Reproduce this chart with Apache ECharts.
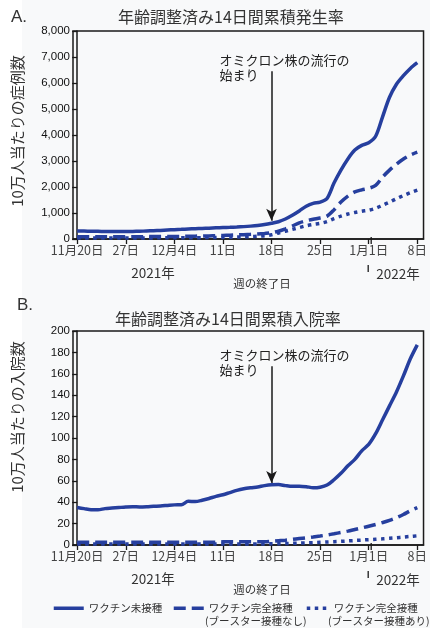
<!DOCTYPE html>
<html>
<head>
<meta charset="utf-8">
<script src="https://cdn.jsdelivr.net/npm/echarts@6/dist/echarts.min.js"></script>
<style>
html,body{margin:0;padding:0;background:#f8f9fa;}
#chart{width:430px;height:628px;}
</style>
</head>
<body>
<div id="chart"></div>
<script>
// 週の終了日 (11月20日 = 0 〜 1月8日 = 49)
var dayIndex = [0,1,2,3,4,5,6,7,8,9,10,11,12,13,14,15,16,17,18,19,20,21,22,23,24,
  25,26,27,28,29,30,31,32,33,34,35,36,37,38,39,40,41,42,43,44,45,46,47,48,49];
var tickDays = [0,7,14,21,28,35,42,49];
var tickLabels = ['11月20日','27日','12月4日','11日','18日','25日','1月1日','8日'];
var seriesNames = ['ワクチン未接種','ワクチン完全接種（ブースター接種なし）','ワクチン完全接種（ブースター接種あり）'];

// A. 年齢調整済み14日間累積発生率
var casesUnvax = [310,305,300,295,290,288,286,285,290,298,308,318,330,345,360,372,384,395,405,415,
  428,440,450,462,476,495,520,555,605,665,770,910,1080,1260,1370,1420,1560,2150,2650,3080,
  3420,3600,3700,3950,4700,5450,5950,6280,6560,6780];
var casesFull = [90,90,90,88,88,88,88,90,90,90,92,92,94,95,98,100,105,110,115,120,
  128,135,145,155,168,180,195,215,240,300,390,500,620,700,760,810,880,1120,1420,1650,
  1810,1890,1950,2060,2380,2650,2880,3080,3230,3340];
var casesBoost = [40,40,40,40,40,40,40,40,40,42,42,43,44,45,46,47,48,50,52,55,
  58,62,66,72,80,90,105,125,160,230,300,370,440,510,560,600,670,780,880,960,
  1020,1070,1110,1180,1300,1420,1550,1670,1780,1880];

// B. 年齢調整済み14日間累積入院率
var hospUnvax = [35,34,33,33,34,34.5,35,35.5,35.8,35.6,35.8,36.2,36.5,37,37.5,37.6,40.8,40.6,41.8,43.5,
  45.5,47,49,51,52.5,53.5,54.3,55.5,56.3,56.5,55.5,54.8,55,54.5,53.5,54,56,61,67,74,
  80,88,94,104,117,130,143,158,174,187];
var hospFull = [2.5,2.5,2.5,2.5,2.5,2.5,2.5,2.5,2.5,2.5,2.5,2.5,2.5,2.5,2.5,2.5,2.5,2.5,2.5,2.5,
  2.5,3,3,3,3,3,3,3,3.5,4,4.5,5.2,6,6.7,7.5,8.4,9.4,10.5,11.7,13,
  14.5,16,17.5,19.2,21,23,25.5,28.5,32,35];
var hospBoost = [1,1,1,1,1,1,1,1,1,1,1,1,1,1,1,1,1,1,1,1,
  1,1,1,1,1,1,1,1,1.1,1.2,1.4,1.6,1.8,2,2.2,2.5,2.8,3.1,3.4,3.8,
  4.2,4.6,5,5.4,5.8,6.3,6.8,7.4,8,8.6];

// オミクロン株の流行の始まり（矢印）
var omicronDay = 28;
var arrowFrom = [6450, 167];
var arrowTo = [700, 58];

var blue = '#263f9e';
var ink = '#1a1a1a';
var lineTypes = ['solid', [12, 6], [3.5, 4.5]];

function pairs(arr) {
  return dayIndex.map(function (d, i) { return [d, arr[i]]; });
}

var chart = echarts.init(document.getElementById('chart'));

function xAxisFor(gi) {
  return {
    type: 'value', gridIndex: gi, min: -0.6, max: 49.9,
    axisLine: { show: true, lineStyle: { color: ink, width: 1.5 } },
    axisTick: { show: true, length: 5, customValues: tickDays, lineStyle: { color: ink, width: 1.3 } },
    axisLabel: {
      customValues: tickDays, margin: 5, fontSize: 12.5, color: '#444',
      fontFamily: 'Noto Sans CJK JP',
      formatter: function (v) { return tickLabels[tickDays.indexOf(v)]; }
    },
    splitLine: { show: false }
  };
}
function yAxisFor(gi, max, interval) {
  return {
    type: 'value', gridIndex: gi, min: 0, max: max, interval: interval,
    axisLine: { show: true, lineStyle: { color: ink, width: 1.5 } },
    axisTick: { show: true, length: 5, lineStyle: { color: ink, width: 1.3 } },
    axisLabel: {
      margin: 3, fontSize: 11.5, color: '#111', fontFamily: 'Liberation Sans',
      formatter: function (v) { return v.toLocaleString('en-US'); }
    },
    splitLine: { show: false }
  };
}
function lineSeries(name, gi, data, k, arrow) {
  var s = {
    name: name, type: 'line', xAxisIndex: gi, yAxisIndex: gi,
    data: pairs(data), showSymbol: false, symbol: 'none', smooth: 0.3,
    z: 3 - k,
    lineStyle: { color: blue, width: 3.5, type: lineTypes[k], cap: 'butt' },
    itemStyle: { color: blue }
  };
  if (arrow) {
    s.markLine = {
      silent: true, animation: false,
      symbol: ['none', 'arrow'], symbolSize: [8, 12],
      lineStyle: { color: ink, width: 1.5, type: 'solid' },
      label: { show: false },
      data: [[{ coord: [omicronDay, arrowFrom[gi]] }, { coord: [omicronDay, arrowTo[gi]] }]]
    };
  }
  return s;
}

var legendText = { fontSize: 10.5, color: '#333', fontFamily: 'Noto Sans CJK JP' };
function legendFor(name, left, w) {
  return {
    data: [name], left: left, top: 603, itemWidth: w, itemHeight: 12, padding: 0,
    selectedMode: false, textStyle: legendText,
    itemStyle: { opacity: 0 },
    lineStyle: { width: 3.5, color: blue },
    formatter: function (n) { return n.split('（')[0]; }
  };
}

var titleStyle = { fontSize: 16, fontWeight: 'normal', color: '#333', fontFamily: 'Noto Sans CJK JP' };
var markStyle = { fontSize: 17, fontWeight: 'normal', color: '#333', fontFamily: 'Liberation Sans' };

var option = {
  animation: false,
  backgroundColor: '#f8f9fa',
  title: [
    { text: 'A.', left: 6, top: 4, textStyle: markStyle },
    { text: '年齢調整済み14日間累積発生率', left: 113, top: 4, textStyle: titleStyle },
    { text: 'B.', left: 12, top: 292, textStyle: markStyle },
    { text: '年齢調整済み14日間累積入院率', left: 110, top: 306, textStyle: titleStyle }
  ],
  grid: [
    { left: 73, right: 6, top: 31, height: 208, show: true, borderColor: ink, borderWidth: 1.5, backgroundColor: 'transparent' },
    { left: 73, right: 6, top: 331, height: 214, show: true, borderColor: ink, borderWidth: 1.5, backgroundColor: 'transparent' }
  ],
  xAxis: [xAxisFor(0), xAxisFor(1)],
  yAxis: [yAxisFor(0, 8000, 1000), yAxisFor(1, 200, 20)],
  legend: [
    legendFor(seriesNames[0], 52, 30),
    legendFor(seriesNames[1], 172, 30),
    legendFor(seriesNames[2], 305, 22)
  ],
  series: [
    lineSeries(seriesNames[0], 0, casesUnvax, 0, true),
    lineSeries(seriesNames[1], 0, casesFull, 1, false),
    lineSeries(seriesNames[2], 0, casesBoost, 2, false),
    lineSeries(seriesNames[0], 1, hospUnvax, 0, true),
    lineSeries(seriesNames[1], 1, hospFull, 1, false),
    lineSeries(seriesNames[2], 1, hospBoost, 2, false)
  ]
};
chart.setOption(option);

// 注記・年ラベルなど
var jp = 'Noto Sans CJK JP';
var g = [
  { type: 'rect', z: -1, shape: { x: 0, y: 0, width: 22, height: 628 }, style: { fill: '#fff' } },
  { type: 'text', x: 17, y: 131, rotation: Math.PI / 2,
    style: { text: '10万人当たりの症例数', font: '15px "' + jp + '"', fill: '#333', textAlign: 'center', textVerticalAlign: 'middle' } },
  { type: 'text', x: 17, y: 417, rotation: Math.PI / 2,
    style: { text: '10万人当たりの入院数', font: '15px "' + jp + '"', fill: '#333', textAlign: 'center', textVerticalAlign: 'middle' } },
  { type: 'text', x: 205, y: 621,
    style: { text: '(ブースター接種なし)', font: '10.5px "' + jp + '"', fill: '#333', textVerticalAlign: 'middle' } },
  { type: 'text', x: 328, y: 621,
    style: { text: '(ブースター接種あり)', font: '10.5px "' + jp + '"', fill: '#333', textVerticalAlign: 'middle' } }
];
[0, 1].forEach(function (gi) {
  var o = chart.convertToPixel({ gridIndex: gi }, [omicronDay, arrowFrom[gi]]);
  g.push({ type: 'text', x: o[0] - 52, y: o[1] - 19,
    style: { text: 'オミクロン株の流行の\n始まり', font: '13px "' + jp + '"', lineHeight: 15, fill: '#222' } });
  var b = chart.convertToPixel({ gridIndex: gi }, [tickDays[6], 0]);
  g.push({ type: 'line', shape: { x1: b[0] + 2.5, y1: b[1] - 2, x2: b[0] + 2.5, y2: b[1] + 5 }, style: { stroke: ink, lineWidth: 1.3 } });
  g.push({ type: 'line', shape: { x1: b[0] - 0.5, y1: b[1] + 26, x2: b[0] - 0.5, y2: b[1] + 33 }, style: { stroke: ink, lineWidth: 1.3 } });
  var s = chart.convertToPixel({ gridIndex: gi }, [0, 0]);
  g.push({ type: 'text', x: 153, y: b[1] + 34,
    style: { text: '2021年', font: '13.5px "' + jp + '"', fill: '#333', textAlign: 'center', textVerticalAlign: 'middle' } });
  g.push({ type: 'text', x: 398, y: b[1] + 35,
    style: { text: '2022年', font: '13.5px "' + jp + '"', fill: '#333', textAlign: 'center', textVerticalAlign: 'middle' } });
  g.push({ type: 'text', x: 262, y: s[1] + 45,
    style: { text: '週の終了日', font: '11.5px "' + jp + '"', fill: '#333', textAlign: 'center', textVerticalAlign: 'middle' } });
});
chart.setOption({ graphic: g });
</script>
</body>
</html>
